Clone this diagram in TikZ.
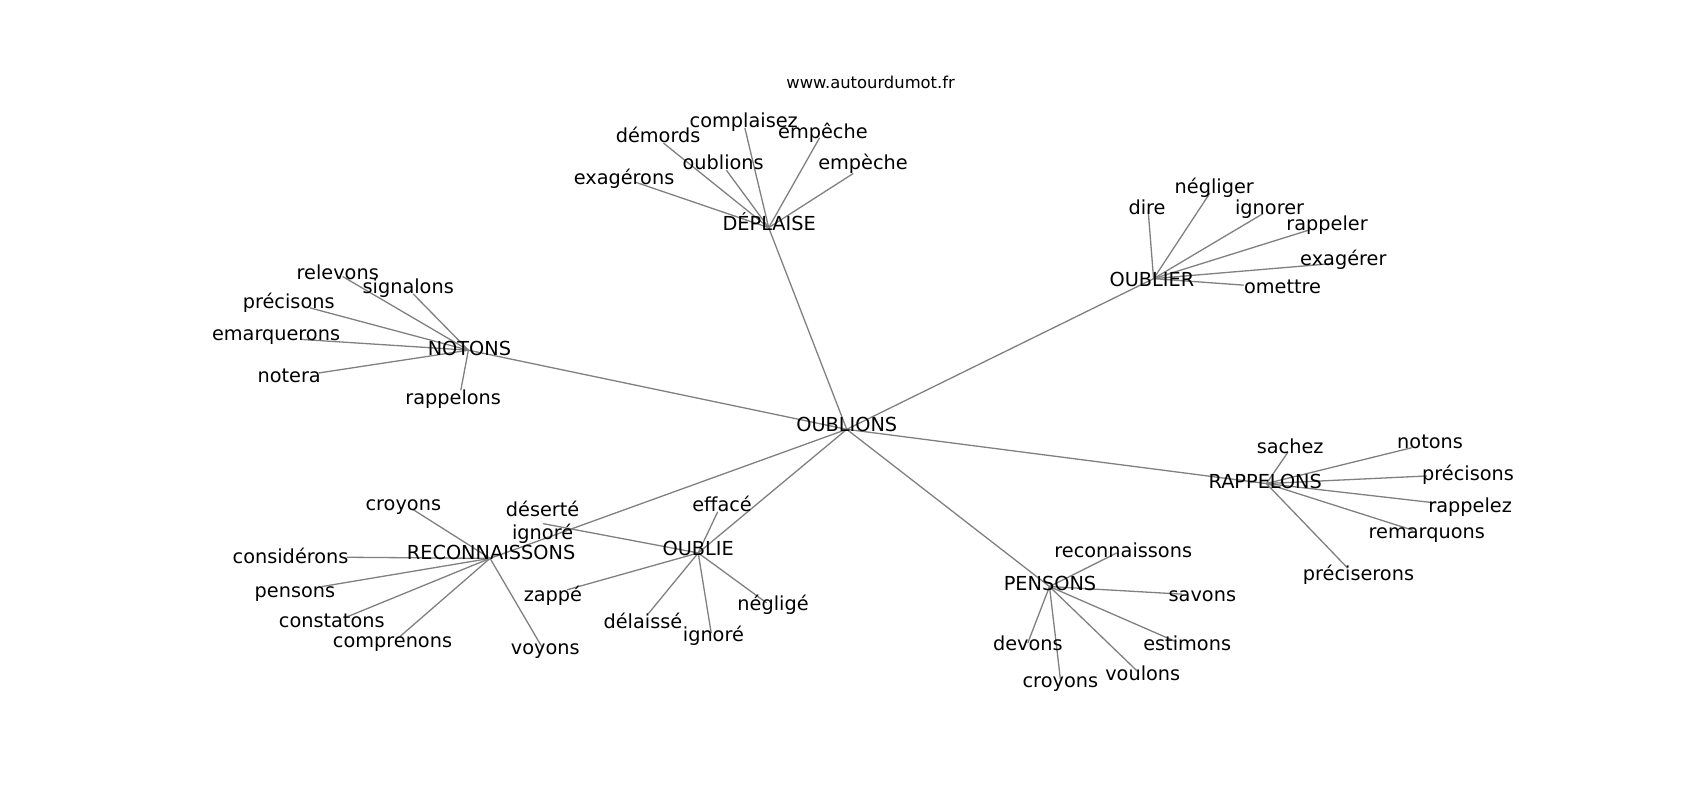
\documentclass[tikz,border=0pt]{standalone}
\usepackage{fontspec}
\setmainfont{DejaVu Sans}
\definecolor{edgegray}{RGB}{128,128,128}
\tikzset{
  lbl/.style={inner sep=0pt, outer sep=0pt, anchor=center, text height=0.75em, text depth=0pt, yshift=0.75pt, font=\fontsize{8.9}{10.5}\selectfont},
  lbltwo/.style={inner sep=0pt, outer sep=0pt, anchor=base, yshift=0.75pt, font=\fontsize{8.9}{10.5}\selectfont},
  titlelbl/.style={inner sep=0pt, outer sep=0pt, anchor=center, text height=0.75em, text depth=0pt, yshift=1pt, font=\fontsize{7.55}{9}\selectfont},
  edge/.style={draw=edgegray, line width=0.6pt}
}
\begin{document}
\begin{tikzpicture}[x=0.5pt,y=-0.5pt]
\useasboundingbox (0,0) rectangle (1568,738);
% hub points
\coordinate (O) at (781,396);
\coordinate (D) at (709,210);
\coordinate (R) at (1064,257);
\coordinate (N) at (432,323);
\coordinate (P) at (1168,446);
\coordinate (S) at (968,541);
\coordinate (L) at (644,510);
\coordinate (C) at (452,515);
% child points
\coordinate (d1) at (687,118);
\coordinate (d2) at (612,132);
\coordinate (d3) at (670,157);
\coordinate (d4) at (756,127);
\coordinate (d5) at (787,160);
\coordinate (d6) at (586,168);
\coordinate (r1) at (1059,194);
\coordinate (r2) at (1116,178);
\coordinate (r3) at (1165,197);
\coordinate (r4) at (1208,212);
\coordinate (r5) at (1230,243);
\coordinate (r6) at (1147,263);
\coordinate (n1) at (316,255);
\coordinate (n2) at (381,271);
\coordinate (n3) at (286,284);
\coordinate (n4) at (277,313);
\coordinate (n5) at (294,344);
\coordinate (n6) at (425,360);
\coordinate (p1) at (1188,417);
\coordinate (p2) at (1302,413);
\coordinate (p3) at (1316,439);
\coordinate (p4) at (1325,464);
\coordinate (p5) at (1303,489);
\coordinate (p6) at (1243,524);
\coordinate (s1) at (1030,510);
\coordinate (s2) at (1090,548);
\coordinate (s3) at (1085,592);
\coordinate (s4) at (1050,620);
\coordinate (s5) at (948,593);
\coordinate (s6) at (978,626);
\coordinate (l1) at (662,472);
\coordinate (l2) at (501,483);
\coordinate (l3) at (523,544);
\coordinate (l4) at (598,566);
\coordinate (l5) at (656,584);
\coordinate (l6) at (707,556);
\coordinate (c1) at (381,470);
\coordinate (c2) at (320,514);
\coordinate (c3) at (297,541);
\coordinate (c4) at (320,569);
\coordinate (c5) at (369,587);
\coordinate (c6) at (500,597);
% edges
\foreach \h in {D,R,N,P,S,L,C} \draw[edge] (O) -- (\h);
\foreach \i in {1,...,6} {
  \draw[edge] (D) -- (d\i);
  \draw[edge] (R) -- (r\i);
  \draw[edge] (N) -- (n\i);
  \draw[edge] (P) -- (p\i);
  \draw[edge] (S) -- (s\i);
  \draw[edge] (L) -- (l\i);
  \draw[edge] (C) -- (c\i);
}
% title
\node[titlelbl] (title) at (803,76) {www.autourdumot.fr};
% hub labels
\node[lbl] (tO) at (781,392) {OUBLIONS};
\node[lbl] (tD) at (709.5,207) {DÉPLAISE};
\node[lbl] (tR) at (1062.5,258) {OUBLIER};
\node[lbl] (tN) at (433,322) {NOTONS};
\node[lbl] (tP) at (1167,444.5) {RAPPELONS};
\node[lbl] (tS) at (968.5,539) {PENSONS};
\node[lbl] (tL) at (644,506.5) {OUBLIE};
\node[lbl] (tC) at (453,510.5) {RECONNAISSONS};
% DÉPLAISE children
\node[lbl] (td1) at (686,112) {complaisez};
\node[lbl] (td2) at (607,125.5) {démords};
\node[lbl] (td3) at (667,150) {oublions};
\node[lbl] (td4) at (759,121.5) {empêche};
\node[lbl] (td5) at (796,150.6) {empèche};
\node[lbl] (td6) at (575.6,164) {exagérons};
% OUBLIER children
\node[lbl] (tr1) at (1058,191.5) {dire};
\node[lbl] (tr2) at (1120,172.5) {négliger};
\node[lbl] (tr3) at (1171,191.5) {ignorer};
\node[lbl] (tr4) at (1224,207) {rappeler};
\node[lbl] (tr5) at (1239,238.6) {exagérer};
\node[lbl] (tr6) at (1183,265) {omettre};
% NOTONS children
\node[lbl] (tn1) at (311.5,252) {relevons};
\node[lbl] (tn2) at (376.5,264.4) {signalons};
\node[lbl] (tn3) at (266.3,278.5) {précisons};
\node[lbl] (tn4) at (254.6,308) {emarquerons};
\node[lbl] (tn5) at (266.7,346.8) {notera};
\node[lbl] (tn6) at (418,367) {rappelons};
% RAPPELONS children
\node[lbl] (tp1) at (1190,412) {sachez};
\node[lbl] (tp2) at (1319,408) {notons};
\node[lbl] (tp3) at (1354,437) {précisons};
\node[lbl] (tp4) at (1356,467) {rappelez};
\node[lbl] (tp5) at (1316,491) {remarquons};
\node[lbl] (tp6) at (1253,529.5) {préciserons};
% PENSONS children
\node[lbl] (ts1) at (1036,508) {reconnaissons};
\node[lbl] (ts2) at (1109,549) {savons};
\node[lbl] (ts3) at (1095,594) {estimons};
\node[lbl] (ts4) at (1054,622) {voulons};
\node[lbl] (ts5) at (948,594) {devons};
\node[lbl] (ts6) at (978,628) {croyons};
% OUBLIE children
\node[lbl] (tl1) at (666,466) {effacé};
\node[lbltwo] (tl2) at (500.5,478) {\begin{tabular}[t]{@{}c@{}}déserté\\ignoré\end{tabular}};
\node[lbl] (tl3) at (510,549) {zappé};
\node[lbl] (tl4) at (593,574) {délaissé};
\node[lbl] (tl5) at (658,586) {ignoré};
\node[lbl] (tl6) at (713,557) {négligé};
% RECONNAISSONS children
\node[lbl] (tc1) at (372,464.5) {croyons};
\node[lbl] (tc2) at (268,513.7) {considérons};
\node[lbl] (tc3) at (272,545) {pensons};
\node[lbl] (tc4) at (306,573) {constatons};
\node[lbl] (tc5) at (362,591) {comprenons};
\node[lbl] (tc6) at (503,598) {voyons};
\end{tikzpicture}
\end{document}
